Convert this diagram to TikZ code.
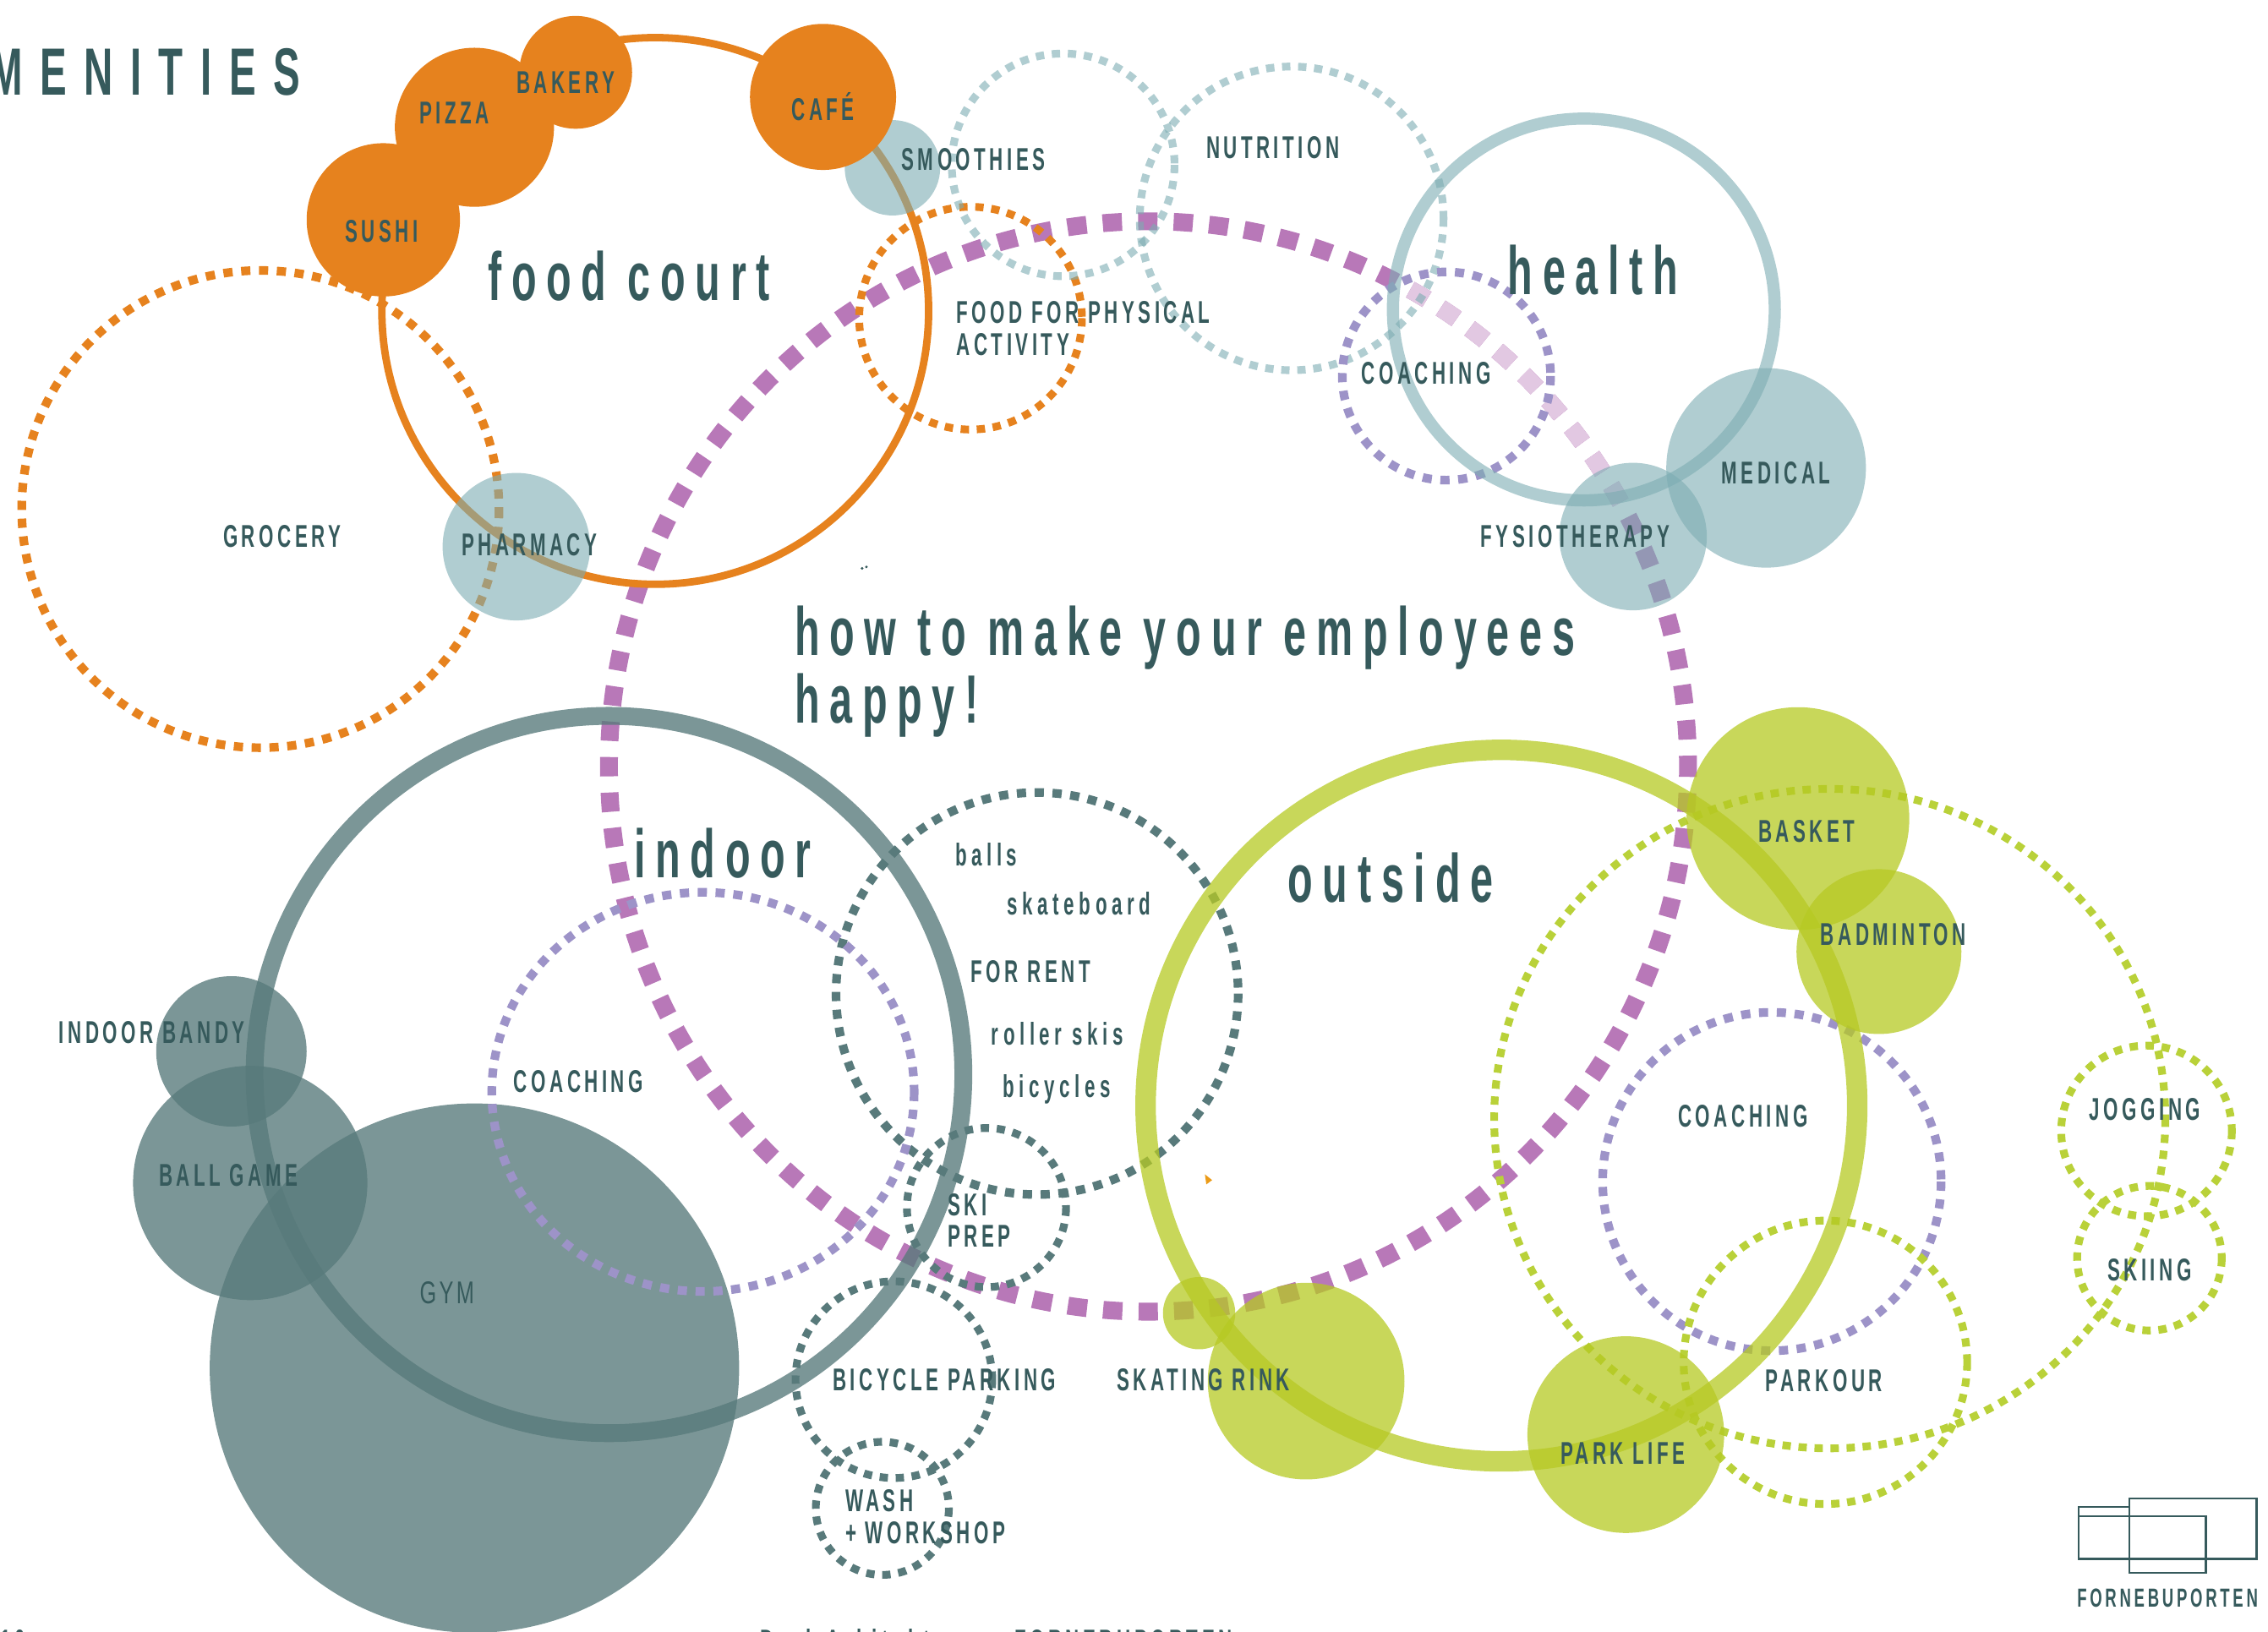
\documentclass[tikz,border=0pt]{standalone}
\usepackage{fontspec}
\setmainfont[FakeStretch=0.6,LetterSpace=12,BoldFont={Liberation Sans Bold}]{Liberation Sans Bold}
\newfontfamily\headfont[FakeStretch=0.6,LetterSpace=14.5]{Liberation Sans Bold}
\newfontfamily\titlefont[FakeStretch=0.6,LetterSpace=26]{Liberation Sans Bold}
\newfontfamily\lowfont[FakeStretch=0.6,LetterSpace=15]{Liberation Sans Bold}
\newfontfamily\thinfont[FakeStretch=0.68,LetterSpace=9]{Liberation Sans}
\definecolor{inkteal}{HTML}{365A5C}
\definecolor{greyteal}{HTML}{587A7B}
\definecolor{foodorange}{HTML}{E6821E}
\definecolor{healthteal}{HTML}{7CACB2}
\definecolor{bigpurple}{HTML}{B878B8}
\definecolor{bigpale}{HTML}{E2C8E2}
\definecolor{coachviolet}{HTML}{9D93C8}
\definecolor{outlime}{HTML}{B6C923}
\definecolor{dotlime}{HTML}{B9D139}
\begin{document}
\begin{tikzpicture}[line cap=butt,x=0.017111cm,y=-0.017111cm,
    lbl/.style={inner sep=0pt,text=inkteal,font=\fontsize{10.6}{12}\selectfont},
    lftlbl/.style={lbl,anchor=west},
    lowlbl/.style={lbl,anchor=west,font=\lowfont\fontsize{10.6}{12}\selectfont},
    head/.style={inner sep=0pt,text=inkteal,anchor=west,font=\headfont\fontsize{23}{27}\selectfont},
    dotring/.style={line width=2.9pt,dash pattern=on 3.1pt off 2.9pt},
    dotsmall/.style={line width=2.6pt,dash pattern=on 2.8pt off 2.6pt},
    bigdash/.style={line width=6pt,dash pattern=on 6.5pt off 5.44pt,dash phase=3pt},
    fillteal/.style={fill=healthteal,fill opacity=0.6},
    filldark/.style={fill=greyteal,fill opacity=0.79},
    filllime/.style={fill=outlime,fill opacity=0.75}]
    \useasboundingbox (0,0) rectangle (1568,1128.5);
    \clip (0,0) rectangle (1568,1128.5);
    \draw [bigdash,bigpurple] (794,530) ellipse (373 and 377);
    \begin{scope}
        \clip (794,530) -- (1028,89) -- (1234,294) -- cycle;
        \draw [bigdash,bigpale] (794,530) ellipse (373 and 377);
    \end{scope}
    \draw [dotring,foodorange] (180,352) circle (165);
    \draw [dotsmall,foodorange] (671,220) circle (77);
    \draw [line width=2.5pt,foodorange] (453,215) circle (189);
    \draw [dotsmall,healthteal,opacity=0.6] (735,114) circle (77);
    \draw [dotsmall,healthteal,opacity=0.6] (893,151) circle (105);
    \draw [dotring,coachviolet] (1000,260) circle (72);
    \draw [line width=4.1pt,healthteal,opacity=0.6] (1095,214) circle (132);
    \fill [fillteal] (617,116) circle (33);
    \fill [fillteal] (357,378) circle (51);
    \fill [fillteal] (1221,323.5) circle (69);
    \fill [fillteal] (1129,371) circle (51);
    \fill [foodorange] (398,50) circle (39);
    \fill [foodorange] (328,88) circle (55);
    \fill [foodorange] (265,152) circle (53);
    \fill [foodorange] (569,67) circle (50.5);
    \draw [dotring,greyteal] (717,687) circle (139);
    \draw [dotsmall,greyteal] (682,835) circle (55);
    \draw [dotsmall,greyteal] (618,954) circle (68);
    \draw [dotsmall,greyteal] (610,1043) circle (46);
    \draw [line width=6pt,greyteal,opacity=0.79] (421,743) ellipse (245 and 248);
    \fill [filldark] (160,727) circle (52);
    \fill [filldark] (173,818) circle (81);
    \fill [filldark] (328,946) circle (183);
    \draw [dotring,coachviolet] (486,755) ellipse (146 and 138);
    \draw [dotring,coachviolet] (1225,817) circle (117);
    \draw [dotsmall,dotlime] (1265,773.5) ellipse (232 and 228);
    \draw [dotsmall,dotlime] (1262,942) circle (98);
    \draw [dotsmall,dotlime] (1484,782) circle (59);
    \draw [dotsmall,dotlime] (1486,870) circle (50);
    \draw [line width=6.9pt,outlime,opacity=0.75] (1038,764.5) circle (246);
    \fill [filllime] (829,908) circle (25);
    \fill [filllime] (903,955) circle (68);
    \fill [filllime] (1124,992) circle (68);
    \fill [filllime] (1243,566) circle (77);
    \fill [filllime] (1299,658) circle (57);
    \fill [color=inkteal] (596,393) circle (1);
    \fill [color=inkteal] (599,392) circle (1);
    \fill [color=foodorange!80!yellow] (833,812) -- (838,816) -- (834,819) -- cycle;
    \node (amenities) [inner sep=0pt,text=inkteal,anchor=east,font=\titlefont\fontsize{22.5}{27}\selectfont] at (208,50) {AMENITIES};
    \node (foodcourt) [head] at (337,191) {food court};
    \node (healthhead) [head] at (1042,187) {health};
    \node (indoorhead) [head] at (438,590) {indoor};
    \node (outsidehead) [head] at (890,607) {outside};
    \node (happyone) [head] at (549,441) {how to make your employees};
    \node (happytwo) [head] at (549,488) {happy!};
    \node (grocery) [lbl] at (195,371) {GROCERY};
    \node (pharmacy) [lbl] at (366,377) {PHARMACY};
    \node (sushi) [lbl] at (264,160) {SUSHI};
    \node (pizza) [lbl] at (314,78) {PIZZA};
    \node (bakery) [lbl] at (391,57) {BAKERY};
    \node (cafe) [lbl] at (569,74) {CAFÉ};
    \node (smoothies) [lbl] at (673,110) {SMOOTHIES};
    \node (nutrition) [lbl] at (880,102) {NUTRITION};
    \node (foodfor) [lftlbl] at (661,216) {FOOD FOR PHYSICAL};
    \node (activity) [lftlbl] at (661,238) {ACTIVITY};
    \node (coachhealth) [lbl] at (986,258) {COACHING};
    \node (fysio) [lbl] at (1089,371) {FYSIOTHERAPY};
    \node (medical) [lbl] at (1228,327) {MEDICAL};
    \node (balls) [lowlbl] at (660,591) {balls};
    \node (skateboard) [lowlbl] at (696,625) {skateboard};
    \node (forrent) [lftlbl] at (671,672) {FOR RENT};
    \node (rollerskis) [lowlbl] at (685,715) {roller skis};
    \node (bicycles) [lowlbl] at (693,753) {bicycles};
    \node (coachindoor) [lbl] at (400,748) {COACHING};
    \node (bandy) [lbl] at (105,714) {INDOOR BANDY};
    \node (ballgame) [lbl] at (158,813) {BALL GAME};
    \node (gym) [lbl,font=\thinfont\fontsize{10.6}{12}\selectfont] at (309,894) {GYM};
    \node (ski) [lftlbl] at (655,833) {SKI};
    \node (prep) [lftlbl] at (655,855) {PREP};
    \node (bicycleparking) [lbl] at (653,954) {BICYCLE PARKING};
    \node (wash) [lftlbl] at (584,1038) {WASH};
    \node (workshop) [lftlbl] at (584,1060) {+ WORKSHOP};
    \node (skating) [lbl] at (832,954) {SKATING RINK};
    \node (parklife) [lbl] at (1122,1005) {PARK LIFE};
    \node (coachoutside) [lbl] at (1205,772) {COACHING};
    \node (parkour) [lbl] at (1261,955) {PARKOUR};
    \node (basket) [lbl] at (1249,575) {BASKET};
    \node (badminton) [lbl] at (1309,646) {BADMINTON};
    \node (jogging) [lbl] at (1483,767) {JOGGING};
    \node (skiing) [lbl] at (1486,878) {SKIING};
    \draw [line width=0.7pt,inkteal] (1472,1036) rectangle (1560,1078);
    \draw [line width=0.7pt,inkteal] (1472,1048.5) rectangle (1525,1087.5);
    \draw [line width=0.7pt,inkteal] (1472,1042) -- (1437,1042) -- (1437,1078) -- (1472,1078);
    \draw [line width=0.7pt,inkteal] (1437,1048.5) -- (1472,1048.5);
    \node (logotext) [lbl,font=\fontsize{8.8}{12}\selectfont] at (1498.5,1105) {FORNEBUPORTEN};
    \node (pagenum) [lbl,anchor=west] at (0,1134.5) {10};
    \node (darkark) [lowlbl] at (525,1134.5) {Dark Arkitekter};
    \node (footname) [lbl,anchor=west] at (701,1134.5) {FORNEBUPORTEN};
\end{tikzpicture}
\end{document}
